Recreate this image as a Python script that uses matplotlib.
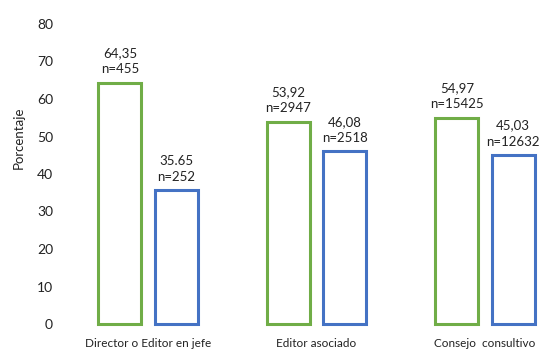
import numpy as np
import matplotlib
matplotlib.use("Agg")
import matplotlib.pyplot as plt

categorias = ["Director o Editor en jefe", "Editor asociado", "Consejo  consultivo"]
grupo_a = [64.35, 53.92, 54.97]
grupo_b = [35.65, 46.08, 45.03]
etiq_a = ["64,35\nn=455", "53,92\nn=2947", "54,97\nn=15425"]
etiq_b = ["35.65\nn=252", "46,08\nn=2518", "45,03\nn=12632"]

plt.rcParams['font.family'] = ['Lato', 'DejaVu Sans']

fig = plt.figure(figsize=(5.59, 3.58), dpi=100)
ax = fig.add_axes([60/559, 34/358, 490/559, 300/358])

x = np.arange(len(categorias))
w = 0.255
off = 0.167
verde = "#70AD47"
azul = "#4472C4"

ax.bar(x - off, grupo_a, w, facecolor="white", edgecolor=verde, linewidth=2.2, clip_on=False)
ax.bar(x + off, grupo_b, w, facecolor="white", edgecolor=azul, linewidth=2.2, clip_on=False)

for xi, v, t in zip(x - off, grupo_a, etiq_a):
    ax.text(xi, v + 2.0, t, ha="center", va="bottom", fontsize=9.5, color="#222222", linespacing=1.4)
for xi, v, t in zip(x + off, grupo_b, etiq_b):
    ax.text(xi, v + 2.0, t, ha="center", va="bottom", fontsize=9.5, color="#222222", linespacing=1.4)

ax.set_xlim(-0.522, 2.386)
ax.set_ylim(0, 80)
ax.set_yticks(range(0, 81, 10))
ax.set_xticks(x)
ax.set_xticklabels(categorias)
for s in ax.spines.values():
    s.set_visible(False)
ax.tick_params(axis="both", length=0, colors="#222222")
ax.tick_params(axis="y", pad=5, labelsize=10)
ax.tick_params(axis="x", pad=10, labelsize=8.5)
ax.set_ylabel("Porcentaje", fontsize=9.5, color="#222222")
ax.yaxis.set_label_coords(-0.072, 0.62)

fig.savefig("out.png", dpi=100)
